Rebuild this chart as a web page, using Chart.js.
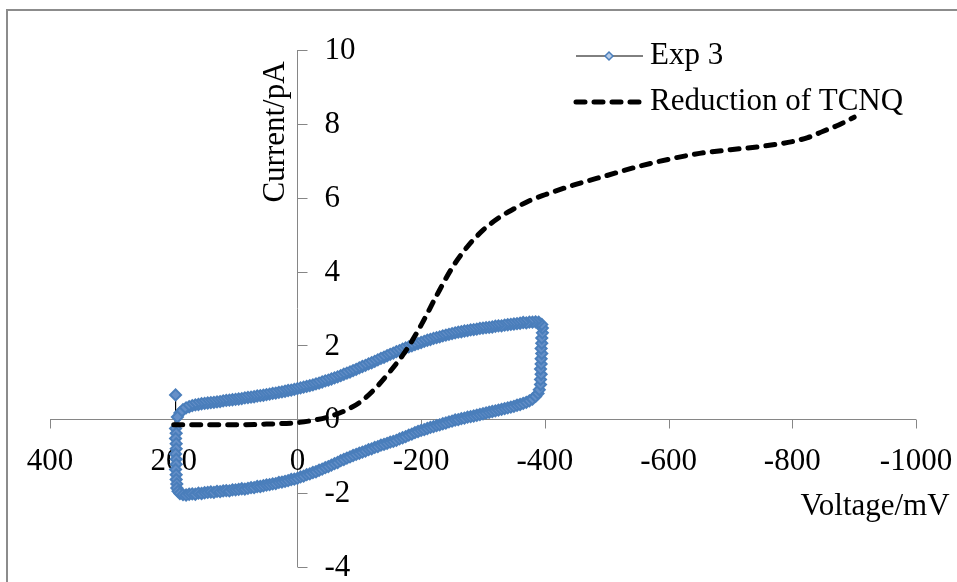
<!DOCTYPE html>
<html>
<head>
<meta charset="utf-8">
<title>Exp 3 / Reduction of TCNQ</title>
<script src="https://cdn.jsdelivr.net/npm/chart.js@4.4.1/dist/chart.umd.min.js"></script>
<style>
  html, body { margin: 0; padding: 0; background: #fff; }
  canvas { display: block; }
</style>
</head>
<body>
<canvas id="cv" width="957" height="582"></canvas>
<script>
// Exp 3 cyclic voltammogram, [voltage mV, current pA], in scan order
const exp3Start = [
  [197, 0.66], [197, -0.25], [196, -0.38], [197, -0.52], [196, -0.66], [196, -0.80],
  [197, -0.94], [196, -1.08], [196, -1.22], [197, -1.36], [196, -1.50], [196, -1.63],
  [195, -1.75], [195, -1.86], [193, -1.95], [190, -2.01],
]
const exp3Cathodic = [
  [185, -2.04], [180, -2.05], [175, -2.03], [170, -2.02], [165, -2.03], [160, -2.00],
  [155, -2.01], [150, -1.99], [145, -1.98], [140, -1.97], [135, -1.98], [130, -1.95],
  [125, -1.96], [120, -1.94], [115, -1.93], [110, -1.94], [105, -1.91], [100, -1.91],
  [95, -1.90], [90, -1.88], [85, -1.89], [80, -1.87], [75, -1.85], [70, -1.85],
  [65, -1.82], [60, -1.82], [55, -1.80], [50, -1.78], [45, -1.77], [40, -1.75],
  [35, -1.74], [30, -1.71], [25, -1.70], [20, -1.68], [15, -1.66], [10, -1.63],
  [5, -1.62], [0, -1.60], [-5, -1.56], [-10, -1.54], [-15, -1.50], [-20, -1.48],
  [-25, -1.44], [-30, -1.42], [-35, -1.38], [-40, -1.35], [-45, -1.31], [-50, -1.28],
  [-55, -1.24], [-60, -1.20], [-65, -1.17], [-70, -1.12], [-75, -1.09], [-80, -1.05],
  [-85, -1.02], [-90, -0.98], [-95, -0.95], [-100, -0.92], [-105, -0.89], [-110, -0.86],
  [-115, -0.82], [-120, -0.80], [-125, -0.76], [-130, -0.74], [-135, -0.70], [-140, -0.68],
  [-145, -0.65], [-150, -0.62], [-155, -0.60], [-160, -0.57], [-165, -0.53], [-170, -0.50],
  [-175, -0.47], [-180, -0.43], [-185, -0.40], [-190, -0.36], [-195, -0.33], [-200, -0.30],
  [-205, -0.28], [-210, -0.25], [-215, -0.22], [-220, -0.20], [-225, -0.17], [-230, -0.15],
  [-235, -0.12], [-240, -0.10], [-245, -0.07], [-250, -0.05], [-255, -0.02], [-260, -0.01],
  [-265, 0.02], [-270, 0.03], [-275, 0.06], [-280, 0.07], [-285, 0.09], [-290, 0.11],
  [-295, 0.13], [-300, 0.15], [-305, 0.17], [-310, 0.19], [-315, 0.21], [-320, 0.23],
  [-325, 0.25], [-330, 0.27], [-335, 0.29], [-340, 0.31], [-345, 0.33], [-350, 0.35],
  [-355, 0.38], [-360, 0.40], [-365, 0.43], [-370, 0.46], [-375, 0.50], [-380, 0.55],
  [-385, 0.62], [-389, 0.70],
]
const exp3Switch = [
  [-391, 0.80], [-393, 0.94], [-393, 1.08], [-394, 1.22], [-393, 1.36], [-394, 1.50],
  [-394, 1.64], [-395, 1.78], [-394, 1.92], [-395, 2.06], [-395, 2.20], [-396, 2.34],
  [-396, 2.47], [-395, 2.57], [-390, 2.63],
]
const exp3Anodic = [
  [-385, 2.64], [-380, 2.63], [-375, 2.63], [-370, 2.61], [-365, 2.62], [-360, 2.60],
  [-355, 2.59], [-350, 2.58], [-345, 2.57], [-340, 2.56], [-335, 2.55], [-330, 2.53],
  [-325, 2.53], [-320, 2.52], [-315, 2.50], [-310, 2.49], [-305, 2.48], [-300, 2.47],
  [-295, 2.46], [-290, 2.44], [-285, 2.43], [-280, 2.42], [-275, 2.40], [-270, 2.39],
  [-265, 2.37], [-260, 2.36], [-255, 2.34], [-250, 2.32], [-245, 2.30], [-240, 2.28],
  [-235, 2.26], [-230, 2.23], [-225, 2.21], [-220, 2.19], [-215, 2.16], [-210, 2.14],
  [-205, 2.11], [-200, 2.08], [-195, 2.05], [-190, 2.02], [-185, 1.99], [-180, 1.96],
  [-175, 1.93], [-170, 1.90], [-165, 1.86], [-160, 1.83], [-155, 1.79], [-150, 1.76],
  [-145, 1.72], [-140, 1.68], [-135, 1.65], [-130, 1.61], [-125, 1.57], [-120, 1.53],
  [-115, 1.50], [-110, 1.46], [-105, 1.43], [-100, 1.39], [-95, 1.35], [-90, 1.32],
  [-85, 1.28], [-80, 1.25], [-75, 1.22], [-70, 1.18], [-65, 1.15], [-60, 1.12],
  [-55, 1.09], [-50, 1.06], [-45, 1.04], [-40, 1.01], [-35, 0.98], [-30, 0.96],
  [-25, 0.93], [-20, 0.91], [-15, 0.89], [-10, 0.87], [-5, 0.85], [0, 0.83],
  [5, 0.81], [10, 0.79], [15, 0.78], [20, 0.76], [25, 0.74], [30, 0.73],
  [35, 0.71], [40, 0.70], [45, 0.68], [50, 0.67], [55, 0.65], [60, 0.64],
  [65, 0.63], [70, 0.61], [75, 0.60], [80, 0.59], [85, 0.58], [90, 0.56],
  [95, 0.55], [100, 0.54], [105, 0.53], [110, 0.52], [115, 0.51], [120, 0.50],
  [125, 0.48], [130, 0.47], [135, 0.46], [140, 0.45], [145, 0.44], [150, 0.43],
  [155, 0.42], [160, 0.40], [165, 0.39], [170, 0.37], [175, 0.34], [180, 0.31],
  [185, 0.26], [190, 0.17], [194, 0.06],
]

// simulated reduction wave of TCNQ, [voltage mV, current pA]
const tcnqCurve = [
  [200, -0.15], [150, -0.15], [100, -0.15], [50, -0.13], [0, -0.09], [-25, -0.03],
  [-50, 0.06], [-75, 0.22], [-100, 0.45], [-125, 0.82], [-150, 1.30], [-175, 1.85],
  [-200, 2.55], [-225, 3.35], [-250, 4.10], [-275, 4.68], [-300, 5.12], [-325, 5.45],
  [-350, 5.70], [-375, 5.92], [-400, 6.08], [-450, 6.36], [-500, 6.60], [-550, 6.84],
  [-600, 7.04], [-650, 7.20], [-700, 7.30], [-750, 7.39], [-800, 7.52], [-825, 7.63],
  [-850, 7.80], [-875, 7.97], [-900, 8.18],
]

const xTicks = [400, 200, 0, -200, -400, -600, -800, -1000]
const yTicks = [-4, -2, 0, 2, 4, 6, 8, 10]
const seriesNames = ['Exp 3', 'Reduction of TCNQ']
const xTitle = 'Voltage/mV'
const yTitle = 'Current/pA'

const FONT = '31px "Liberation Serif", "Times New Roman", serif'
const AXIS_GREY = '#868686'
const FRAME_GREY = '#8c8c8c'
const BLUE = '#4a7ebb'
const BLUE_FILL = '#6690c8'
const DASH = [9, 9]

const toPoints = (pairs) => pairs.map(([x, y]) => ({ x, y }))

function diamond(ctx, x, y, r) {
  ctx.beginPath()
  ctx.moveTo(x - r, y)
  ctx.lineTo(x, y - r)
  ctx.lineTo(x + r, y)
  ctx.lineTo(x, y + r)
  ctx.closePath()
  ctx.fillStyle = '#b9cde8'
  ctx.fill()
  ctx.lineWidth = 1.5
  ctx.strokeStyle = BLUE
  ctx.stroke()
}

// axes cross at (0, 0), so they are drawn by hand from the scales
const crossAxes = {
  id: 'crossAxes',
  beforeDraw(chart) {
    const { ctx, width, height } = chart
    ctx.save()
    ctx.fillStyle = '#fff'
    ctx.fillRect(0, 0, width, height)
    ctx.fillStyle = FRAME_GREY
    ctx.fillRect(6, 9, width - 6, 2)
    ctx.fillRect(6, 9, 2, height - 9)
    ctx.restore()
  },
  beforeDatasetsDraw(chart) {
    const { ctx, scales: { x, y } } = chart
    const ax = Math.round(x.getPixelForValue(0)) + 0.5
    const ay = Math.round(y.getPixelForValue(0)) + 0.5
    ctx.save()
    ctx.strokeStyle = AXIS_GREY
    ctx.lineWidth = 1
    ctx.beginPath()
    ctx.moveTo(x.getPixelForValue(xTicks[0]), ay)
    ctx.lineTo(x.getPixelForValue(xTicks[xTicks.length - 1]), ay)
    ctx.moveTo(ax, y.getPixelForValue(yTicks[0]))
    ctx.lineTo(ax, y.getPixelForValue(yTicks[yTicks.length - 1]))
    xTicks.forEach((v) => {
      const px = Math.round(x.getPixelForValue(v)) + 0.5
      ctx.moveTo(px, ay)
      ctx.lineTo(px, ay + 9)
    })
    yTicks.forEach((v) => {
      const py = Math.round(y.getPixelForValue(v)) + 0.5
      ctx.moveTo(ax, py)
      ctx.lineTo(ax + 10, py)
    })
    ctx.stroke()

    ctx.fillStyle = '#000'
    ctx.font = FONT
    ctx.textBaseline = 'middle'
    ctx.textAlign = 'center'
    xTicks.forEach((v) => ctx.fillText(String(v), x.getPixelForValue(v), ay + 42))
    ctx.textAlign = 'left'
    yTicks.forEach((v) => ctx.fillText(String(v), ax + 27, y.getPixelForValue(v) + 1))

    ctx.textBaseline = 'alphabetic'
    ctx.textAlign = 'center'
    ctx.fillText(xTitle, 875, 515)
    ctx.translate(284, 132)
    ctx.rotate(-Math.PI / 2)
    ctx.fillText(yTitle, 0, 0)
    ctx.restore()
  },
}

// legend box sits inside the plot, top right
const insideLegend = {
  id: 'insideLegend',
  afterDatasetsDraw(chart) {
    const { ctx } = chart
    const rows = [56, 102]
    ctx.save()
    chart.data.datasets.forEach((ds, i) => {
      const yy = rows[i]
      ctx.beginPath()
      ctx.strokeStyle = ds.borderColor
      ctx.lineWidth = ds.borderWidth
      ctx.lineCap = ds.borderCapStyle || 'butt'
      ctx.setLineDash(ds.borderDash || [])
      ctx.moveTo(576, yy)
      ctx.lineTo(643, yy)
      ctx.stroke()
      ctx.setLineDash([])
      if (ds.pointRadius) diamond(ctx, 609, yy, 4)
      ctx.fillStyle = '#000'
      ctx.font = FONT
      ctx.textAlign = 'left'
      ctx.textBaseline = 'middle'
      ctx.fillText(ds.label, 650, yy)
    })
    ctx.restore()
  },
}

new Chart(document.getElementById('cv'), {
  type: 'scatter',
  data: {
    datasets: [
      {
        label: seriesNames[0],
        data: toPoints([...exp3Start, ...exp3Cathodic, ...exp3Switch, ...exp3Anodic]),
        showLine: true,
        borderColor: '#000',
        borderWidth: 1,
        pointStyle: 'rectRot',
        pointRadius: 5.5,
        pointBorderWidth: 2,
        pointBorderColor: BLUE,
        pointBackgroundColor: BLUE_FILL,
        order: 2,
      },
      {
        label: seriesNames[1],
        data: toPoints(tcnqCurve),
        showLine: true,
        borderColor: '#000',
        borderWidth: 5,
        borderDash: DASH,
        borderCapStyle: 'round',
        cubicInterpolationMode: 'monotone',
        pointRadius: 0,
        order: 1,
      },
    ],
  },
  options: {
    responsive: false,
    animation: false,
    devicePixelRatio: 1,
    layout: { padding: { left: 50, top: 50, right: 41, bottom: 15 } },
    plugins: {
      legend: { display: false },
      tooltip: { enabled: false },
    },
    scales: {
      x: { type: 'linear', min: -1000, max: 400, reverse: true, display: false },
      y: { type: 'linear', min: -4, max: 10, display: false },
    },
  },
  plugins: [crossAxes, insideLegend],
})
</script>
</body>
</html>
